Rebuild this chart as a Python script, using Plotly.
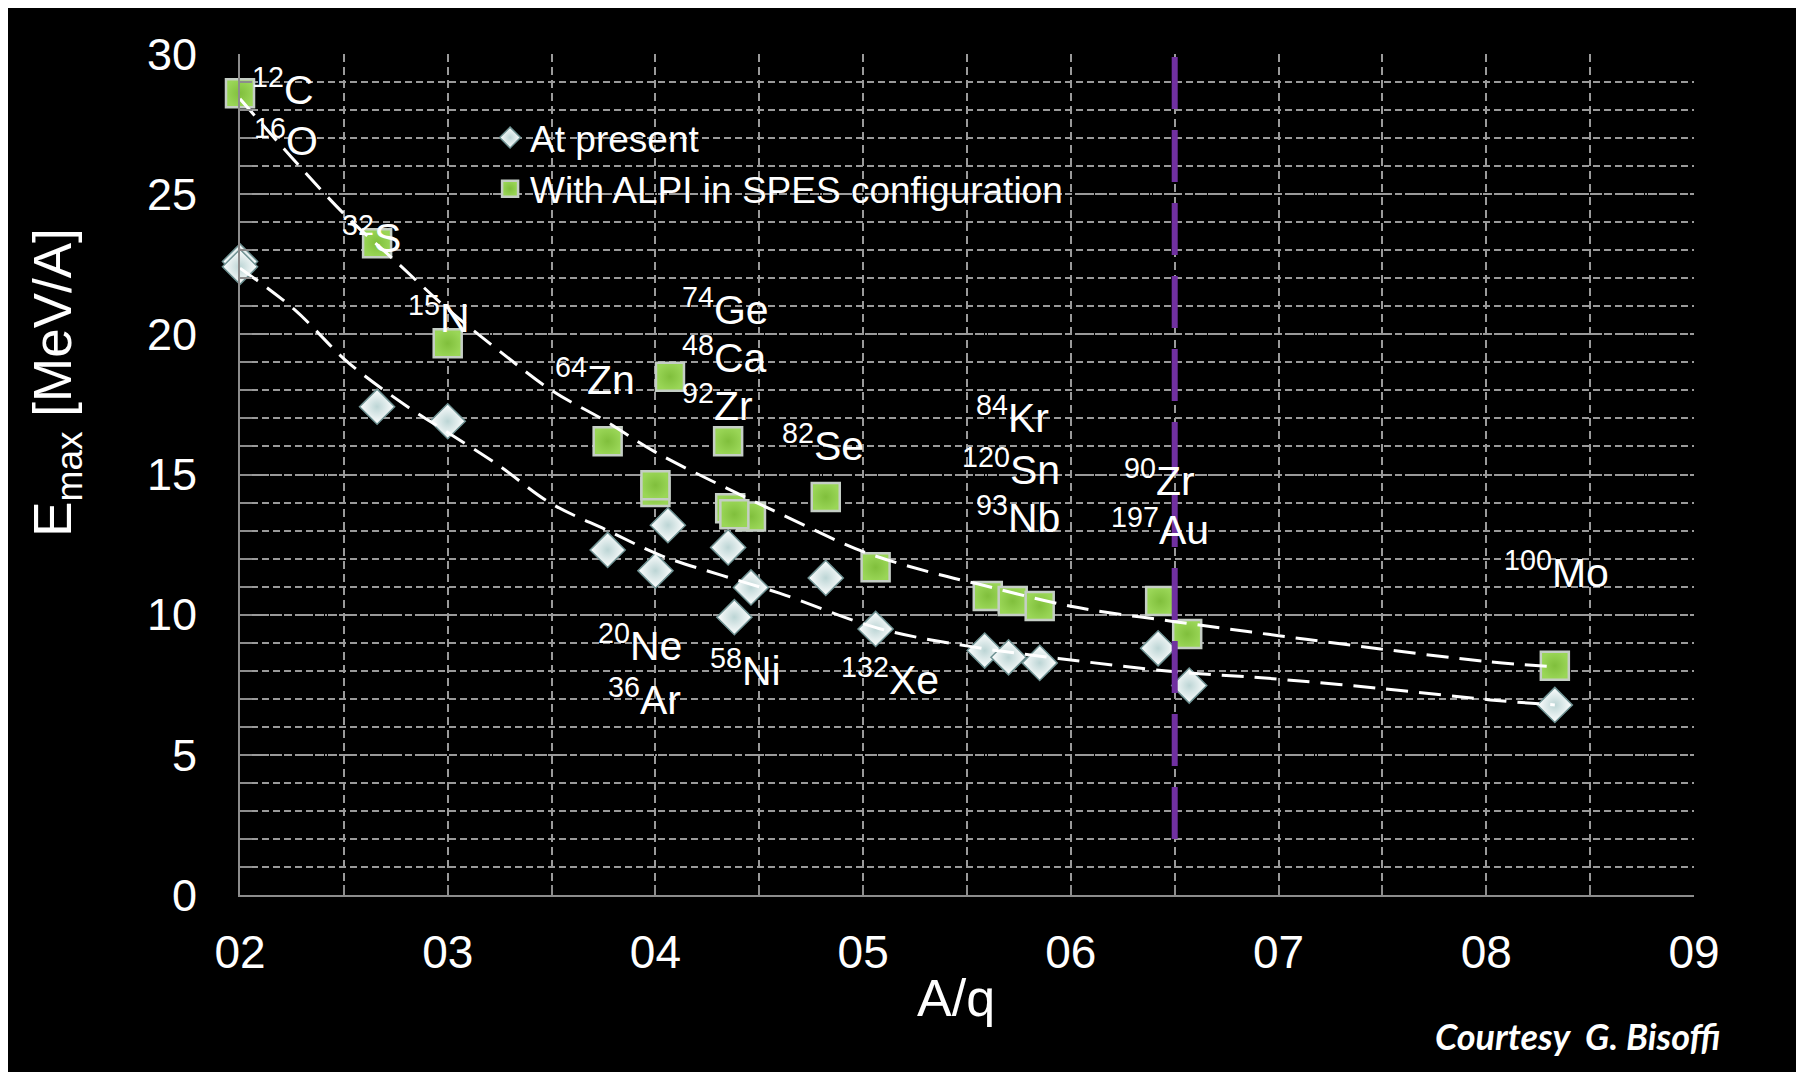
import plotly.graph_objects as go

# ---------------- data ----------------
present_x = [2.00, 2.00, 2.66, 3.00, 3.77, 4.00, 4.06, 4.35, 4.38, 4.46, 4.82, 5.06, 5.585, 5.70, 5.85, 6.42, 6.57, 8.33]
present_y = [22.60, 22.41, 17.42, 16.90, 12.31, 11.57, 13.19, 12.40, 9.91, 10.97, 11.31, 9.49, 8.72, 8.48, 8.28, 8.80, 7.47, 6.78]

alpi_x = [2.00, 2.66, 3.00, 3.77, 4.07, 4.35, 4.00, 4.00, 4.36, 4.46, 4.38, 4.82, 5.06, 5.60, 5.72, 5.85, 6.43, 6.56, 8.33]
alpi_y = [28.60, 23.25, 19.68, 16.19, 18.49, 16.19, 14.38, 14.62, 13.80, 13.50, 13.58, 14.20, 11.69, 10.67, 10.49, 10.31, 10.49, 9.31, 8.18]

# trend curves
trend_up_x = [2.0, 2.25, 2.5, 2.75, 3.0, 3.25, 3.5, 3.75, 4.0, 4.36, 4.6, 5.0, 5.33, 5.55, 6.0, 6.5, 7.0, 7.5, 8.0, 8.33]
trend_up_y = [28.4, 26.3, 24.3, 22.6, 20.9, 19.4, 18.0, 16.95, 15.8, 14.45, 13.6, 12.25, 11.5, 11.1, 10.3, 9.75, 9.25, 8.77, 8.33, 8.14]

trend_lo_x = [2.0, 2.26, 2.52, 2.81, 3.0, 3.25, 3.49, 3.77, 4.03, 4.32, 4.6, 5.08, 5.52, 5.94, 6.49, 6.95, 7.49, 8.02, 8.33]
trend_lo_y = [22.36, 20.9, 19.0, 17.4, 16.5, 15.3, 14.0, 13.0, 12.1, 11.4, 10.76, 9.5, 8.86, 8.44, 7.97, 7.73, 7.37, 6.96, 6.78]

limit_x = 6.5
limit_y = [2.0, 30.0]

x_tickvals = [2, 3, 4, 5, 6, 7, 8, 9]
x_ticktext = ["02", "03", "04", "05", "06", "07", "08", "09"]
y_tickvals = [0, 5, 10, 15, 20, 25, 30]

label_text = ["<sup>12</sup>C", "<sup>16</sup>O", "<sup>32</sup>S", "<sup>15</sup>N", "<sup>74</sup>Ge",
              "<sup>48</sup>Ca", "<sup>64</sup>Zn", "<sup>92</sup>Zr", "<sup>82</sup>Se", "<sup>84</sup>Kr",
              "<sup>120</sup>Sn", "<sup>93</sup>Nb", "<sup>20</sup>Ne", "<sup>36</sup>Ar", "<sup>58</sup>Ni",
              "<sup>132</sup>Xe", "<sup>90</sup>Zr", "<sup>197</sup>Au", "<sup>100</sup>Mo"]
label_x = [2.05, 2.06, 2.48, 2.80, 4.12, 4.12, 3.505, 4.12, 4.60, 5.533,
           5.465, 5.533, 3.714, 3.764, 4.252, 4.882, 6.247, 6.183, 8.076]
label_y = [28.66, 26.82, 23.37, 20.51, 20.81, 19.09, 18.31, 17.36, 15.94, 16.95,
           15.10, 13.38, 8.80, 6.90, 7.91, 7.61, 14.69, 12.96, 11.42]

# ---------------- figure ----------------
FONT = "Liberation Sans, Arial, sans-serif"
GRID = "#9a9a9a"
AXIS = "#8c8c8c"

fig = go.Figure()

fig.add_trace(go.Scatter(
    x=present_x, y=present_y, mode="markers", name="At present",
    cliponaxis=False,
    marker=dict(symbol="diamond", size=27, color="#ffffff",
                gradient=dict(type="radial", color="#bcd5d5"),
                line=dict(color="#6f9293", width=1.5)),
))
fig.add_trace(go.Scatter(
    x=alpi_x, y=alpi_y, mode="markers", name="With ALPI in SPES configuration",
    cliponaxis=False,
    marker=dict(symbol="square", size=28, color="#9ad657",
                gradient=dict(type="radial", color="#80bf3c"),
                line=dict(color="#c5cec5", width=2.5)),
))
fig.add_trace(go.Scatter(
    x=trend_up_x, y=trend_up_y, mode="lines", showlegend=False, cliponaxis=False,
    line=dict(color="white", width=3, dash="22px,11px", shape="spline", smoothing=1.0),
))
fig.add_trace(go.Scatter(
    x=trend_lo_x, y=trend_lo_y, mode="lines", showlegend=False, cliponaxis=False,
    line=dict(color="white", width=3, dash="22px,11px", shape="spline", smoothing=1.0),
))

fig.add_shape(type="line", xref="x", yref="y", x0=limit_x, x1=limit_x, y0=limit_y[0], y1=limit_y[1],
              line=dict(color="#7030a0", width=6, dash="52px,21px"), layer="above")

for t, lx, ly in zip(label_text, label_x, label_y):
    fig.add_annotation(x=lx, y=ly, xref="x", yref="y", text=t, showarrow=False,
                       xanchor="left", yanchor="middle", yshift=5,
                       font=dict(family=FONT, size=41, color="white"))

# axis titles and credit
fig.add_annotation(x=-0.126, y=0.61, xref="paper", yref="paper", text="E<sub>max</sub> [MeV/A]",
                   textangle=-90, showarrow=False, xanchor="center", yanchor="middle",
                   font=dict(family=FONT, size=53, color="white"))
fig.add_annotation(x=0.4924, y=-0.1225, xref="paper", yref="paper", text="A/q",
                   showarrow=False, xanchor="center", yanchor="middle",
                   font=dict(family=FONT, size=52, color="white"))
fig.add_annotation(x=1.0194, y=-0.1677, xref="paper", yref="paper",
                   text="<b><i>Courtesy&nbsp; G. Bisoffi</i></b>",
                   showarrow=False, xanchor="right", yanchor="middle",
                   font=dict(family="Lato, Open Sans, sans-serif", size=36, color="white"))

# the page body has an 8px margin: size and margins compensate for it
fig.update_layout(
    width=1796, height=1064,
    paper_bgcolor="black", plot_bgcolor="black",
    margin=dict(l=232, r=110, t=46, b=177),
    font=dict(family=FONT, color="white"),
    showlegend=True,
    legend=dict(x=0.172, y=0.937, xanchor="left", yanchor="top",
                bgcolor="rgba(0,0,0,0)", font=dict(family=FONT, size=37, color="white"),
                itemsizing="trace", tracegroupgap=0),
)

fig.update_xaxes(
    range=[2, 9], tickvals=x_tickvals, ticktext=x_ticktext,
    showgrid=True, gridcolor=GRID, gridwidth=1.5, griddash="8px,5px",
    showline=True, linecolor=AXIS, linewidth=2, zeroline=False,
    ticks="inside", ticklen=10, tickcolor=AXIS, tickwidth=2,
    tickfont=dict(family=FONT, size=46, color="white"), ticklabelstandoff=16,
    minor=dict(dtick=0.5, showgrid=True, gridcolor=GRID, gridwidth=1.5, griddash="8px,5px",
               ticks="inside", ticklen=10, tickcolor=AXIS, tickwidth=2),
)
fig.update_yaxes(
    range=[0, 30], tickvals=y_tickvals,
    showgrid=True, gridcolor=GRID, gridwidth=1.5, griddash="7px,3px,2px,3px",
    showline=True, linecolor=AXIS, linewidth=2, zeroline=False,
    ticks="inside", ticklen=12, tickcolor=AXIS, tickwidth=2,
    tickfont=dict(family=FONT, size=45, color="white"), ticklabelstandoff=32,
    minor=dict(dtick=1, showgrid=True, gridcolor=GRID, gridwidth=1.5, griddash="7px,4px",
               ticks="inside", ticklen=12, tickcolor=AXIS, tickwidth=2),
)

fig.write_html("out.html")
